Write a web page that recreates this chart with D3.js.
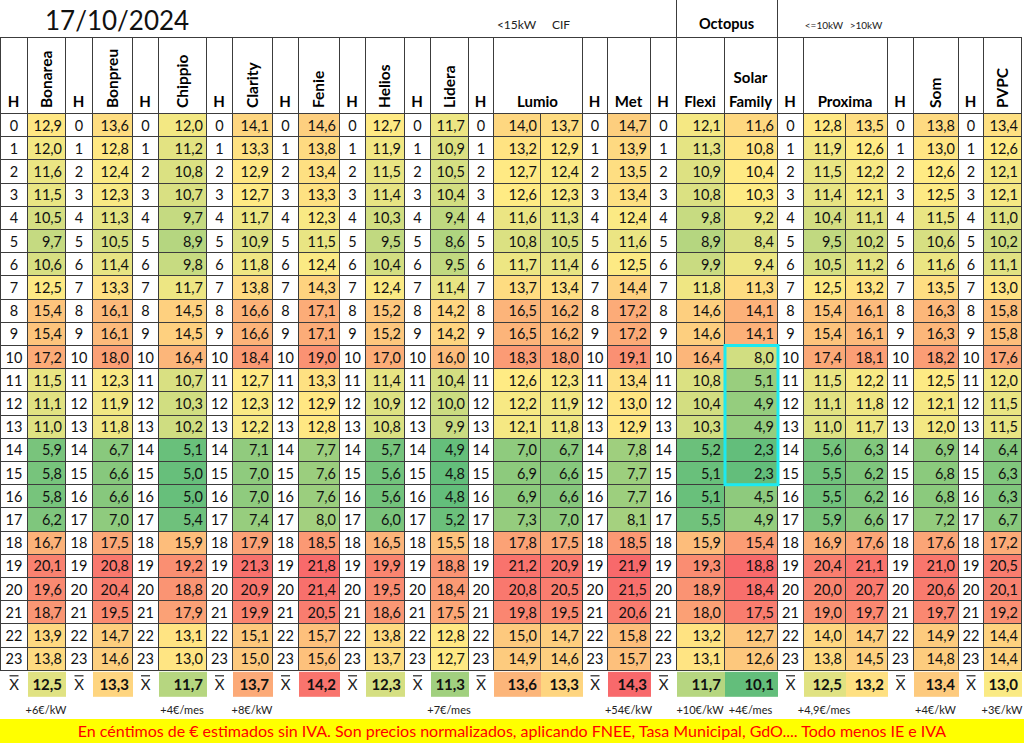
<!DOCTYPE html>
<html>
<head>
<meta charset="utf-8">
<script src="https://cdn.jsdelivr.net/npm/d3@7"></script>
<style>
  body { margin: 0; background: #fff; }
  svg { display: block; font-family: Lato, "Open Sans", sans-serif; }
</style>
</head>
<body>
<div id="chart"></div>
<script>
// ---- data (céntimos de € por kWh, 17/10/2024) ----
const title = "17/10/2024";
const hours = [0,1,2,3,4,5,6,7,8,9,10,11,12,13,14,15,16,17,18,19,20,21,22,23];

const bonarea  = [12.9,12.0,11.6,11.5,10.5,9.7,10.6,12.5,15.4,15.4,17.2,11.5,11.1,11.0,5.9,5.8,5.8,6.2,16.7,20.1,19.6,18.7,13.9,13.8];
const bonpreu  = [13.6,12.8,12.4,12.3,11.3,10.5,11.4,13.3,16.1,16.1,18.0,12.3,11.9,11.8,6.7,6.6,6.6,7.0,17.5,20.8,20.4,19.5,14.7,14.6];
const chippio  = [12.0,11.2,10.8,10.7,9.7,8.9,9.8,11.7,14.5,14.5,16.4,10.7,10.3,10.2,5.1,5.0,5.0,5.4,15.9,19.2,18.8,17.9,13.1,13.0];
const clarity  = [14.1,13.3,12.9,12.7,11.7,10.9,11.8,13.8,16.6,16.6,18.4,12.7,12.3,12.2,7.1,7.0,7.0,7.4,17.9,21.3,20.9,19.9,15.1,15.0];
const fenie    = [14.6,13.8,13.4,13.3,12.3,11.5,12.4,14.3,17.1,17.1,19.0,13.3,12.9,12.8,7.7,7.6,7.6,8.0,18.5,21.8,21.4,20.5,15.7,15.6];
const helios   = [12.7,11.9,11.5,11.4,10.3,9.5,10.4,12.4,15.2,15.2,17.0,11.4,10.9,10.8,5.7,5.6,5.6,6.0,16.5,19.9,19.5,18.6,13.8,13.7];
const lidera   = [11.7,10.9,10.5,10.4,9.4,8.6,9.5,11.4,14.2,14.2,16.0,10.4,10.0,9.9,4.9,4.8,4.8,5.2,15.5,18.8,18.4,17.5,12.8,12.7];
const lumioA   = [14.0,13.2,12.7,12.6,11.6,10.8,11.7,13.7,16.5,16.5,18.3,12.6,12.2,12.1,7.0,6.9,6.9,7.3,17.8,21.2,20.8,19.8,15.0,14.9];
const lumioB   = [13.7,12.9,12.4,12.3,11.3,10.5,11.4,13.4,16.2,16.2,18.0,12.3,11.9,11.8,6.7,6.6,6.6,7.0,17.5,20.9,20.5,19.5,14.7,14.6];
const met      = [14.7,13.9,13.5,13.4,12.4,11.6,12.5,14.4,17.2,17.2,19.1,13.4,13.0,12.9,7.8,7.7,7.7,8.1,18.5,21.9,21.5,20.6,15.8,15.7];
const flexi    = [12.1,11.3,10.9,10.8,9.8,8.9,9.9,11.8,14.6,14.6,16.4,10.8,10.4,10.3,5.2,5.1,5.1,5.5,15.9,19.3,18.9,18.0,13.2,13.1];
const solar    = [11.6,10.8,10.4,10.3,9.2,8.4,9.4,11.3,14.1,14.1,8.0,5.1,4.9,4.9,2.3,2.3,4.5,4.9,15.4,18.8,18.4,17.5,12.7,12.6];
const proximaA = [12.8,11.9,11.5,11.4,10.4,9.5,10.5,12.5,15.4,15.4,17.4,11.5,11.1,11.0,5.6,5.5,5.5,5.9,16.9,20.4,20.0,19.0,14.0,13.8];
const proximaB = [13.5,12.6,12.2,12.1,11.1,10.2,11.2,13.2,16.1,16.1,18.1,12.2,11.8,11.7,6.3,6.2,6.2,6.6,17.6,21.1,20.7,19.7,14.7,14.5];
const som      = [13.8,13.0,12.6,12.5,11.5,10.6,11.6,13.5,16.3,16.3,18.2,12.5,12.1,12.0,6.9,6.8,6.8,7.2,17.6,21.0,20.6,19.7,14.9,14.8];
const pvpc     = [13.4,12.6,12.1,12.1,11.0,10.2,11.1,13.0,15.8,15.8,17.6,12.0,11.5,11.5,6.4,6.3,6.3,6.7,17.2,20.5,20.1,19.2,14.4,14.4];

const seriesKeys = ["bonarea","bonpreu","chippio","clarity","fenie","helios","lidera",
  "lumioA","lumioB","met","flexi","solar","proximaA","proximaB","som","pvpc"];
const seriesValues = [bonarea,bonpreu,chippio,clarity,fenie,helios,lidera,
  lumioA,lumioB,met,flexi,solar,proximaA,proximaB,som,pvpc];
const averages = [12.5,13.3,11.7,13.7,14.2,12.3,11.3,13.6,13.3,14.3,11.7,10.1,12.5,13.2,13.4,13.0];

// header labels: [text, columns spanned, rotated]
const headers = [
  ["Bonarea",["bonarea"],true], ["Bonpreu",["bonpreu"],true], ["Chippio",["chippio"],true],
  ["Clarity",["clarity"],true], ["Fenie",["fenie"],true], ["Helios",["helios"],true],
  ["Lidera",["lidera"],true], ["Lumio",["lumioA","lumioB"],false], ["Met",["met"],false],
  ["Flexi",["flexi"],false], ["Solar|Family",["solar"],false], ["Proxima",["proximaA","proximaB"],false],
  ["Som",["som"],true], ["PVPC",["pvpc"],true]
];
const topLabels = [["<15kW","lumioA"],["CIF","lumioB"],["<=10kW","proximaA"],[">10kW","proximaB"]];
const notes = [
  ["bonarea","+6€/kW"],["chippio","+4€/mes"],["clarity","+8€/kW"],["lidera","+7€/mes"],
  ["met","+54€/kW"],["flexi","+10€/kW"],["solar","+4€/mes"],["proximaA","+4,9€/mes"],
  ["som","+4€/kW"],["pvpc","+3€/kW"]
];
const footer = "En céntimos de € estimados sin IVA. Son precios normalizados, aplicando FNEE, Tasa Municipal, GdO.... Todo menos IE e IVA";

// ---- layout ----
const W = 1024, H = 743;
const colOrder = ["h0","bonarea","h1","bonpreu","h2","chippio","h3","clarity","h4","fenie",
  "h5","helios","h6","lidera","h7","lumioA","lumioB","h8","met","h9","flexi","solar",
  "h10","proximaA","proximaB","h11","som","h12","pvpc"];
const colWidths = [27,38,27,40,26,48,26,40,26,41,26,39,26,38,25,47,42,25,43,26,48,53,26,42,42,26,45,25,38];
const headTop = 37, gridTop = 113, rowH = 23.2;
const isHour = k => /^h\d+$/.test(k);

const starts = colWidths.map((w, i) => d3.sum(colWidths.slice(0, i)));
const xPos = d3.scaleOrdinal().domain(colOrder).range(starts);
const xWid = d3.scaleOrdinal().domain(colOrder).range(colWidths);
const y = d3.scaleBand().domain(hours).range([gridTop, gridTop + rowH * hours.length]);
const avgTop = y.range()[1] + 2, avgH = 25;
const gridRight = d3.sum(colWidths);

const fmt = d3.formatLocale({decimal: ",", thousands: ".", grouping: [3], currency: ["", "€"]}).format(".1f");
const excelScale = vals => d3.scaleLinear()
  .domain([d3.min(vals), d3.quantile(vals, 0.5), d3.max(vals)])
  .range(["#63BE7B", "#FFEB84", "#F8696B"]);
const allVals = seriesValues.filter((v, i) => seriesKeys[i] !== "solar").flat();
const colorAll = excelScale(allVals);
const colorSolar = excelScale(solar);
const colorAvg = excelScale(averages);

const svg = d3.select("#chart").append("svg")
  .attr("width", W).attr("height", H);

const line = "#3c3c3c";

// title row
svg.append("text").attr("x", 45).attr("y", 30)
  .attr("font-size", 26).attr("fill", "#111").text(title);
svg.append("line").attr("x1", 0).attr("x2", gridRight).attr("y1", headTop + 0.5).attr("y2", headTop + 0.5)
  .attr("stroke", line);
[xPos("flexi"), xPos("h10")].forEach(x => {
  svg.append("line").attr("x1", x + 0.5).attr("x2", x + 0.5).attr("y1", 0).attr("y2", headTop)
    .attr("stroke", line);
});
svg.append("text").attr("x", (xPos("flexi") + xPos("h10")) / 2).attr("y", 29)
  .attr("text-anchor", "middle").attr("font-weight", 700).attr("font-size", 14.5).text("Octopus");
topLabels.forEach(([t, k]) => {
  svg.append("text").attr("x", xPos(k) + xWid(k) / 2).attr("y", 29)
    .attr("text-anchor", "middle").attr("font-size", k.startsWith("lumio") ? 12 : 10)
    .attr("fill", "#222").text(t);
});

// header cells
const head = svg.append("g");
colOrder.filter(isHour).forEach(k => {
  head.append("rect").attr("x", xPos(k) + 0.5).attr("y", headTop + 0.5)
    .attr("width", xWid(k)).attr("height", gridTop - headTop)
    .attr("fill", "#fff").attr("stroke", line);
  head.append("text").attr("x", xPos(k) + xWid(k) / 2).attr("y", 107)
    .attr("text-anchor", "middle").attr("font-weight", 700).attr("font-size", 15).text("H");
});
headers.forEach(([label, cols, rot]) => {
  const x0 = xPos(cols[0]);
  const x1 = xPos(cols[cols.length - 1]) + xWid(cols[cols.length - 1]);
  const cx = (x0 + x1) / 2;
  head.append("rect").attr("x", x0 + 0.5).attr("y", headTop + 0.5)
    .attr("width", x1 - x0).attr("height", gridTop - headTop)
    .attr("fill", "#fff").attr("stroke", line);
  if (rot) {
    head.append("text").attr("transform", `translate(${cx + 5.5},108) rotate(-90)`)
      .attr("font-weight", 700).attr("font-size", 15.5).text(label);
  } else {
    const parts = label.split("|");
    parts.forEach((p, i) => {
      head.append("text").attr("x", cx).attr("y", 107 - (parts.length - 1 - i) * 24)
        .attr("text-anchor", "middle").attr("font-weight", 700).attr("font-size", 15).text(p);
    });
  }
});

// grid cells
const grid = svg.append("g").attr("shape-rendering", "crispEdges");
colOrder.forEach(k => {
  const isH = isHour(k);
  const si = seriesKeys.indexOf(k);
  hours.forEach((hr, r) => {
    const v = isH ? null : seriesValues[si][r];
    const fill = isH ? "#fff" : (k === "solar" ? colorSolar(v) : colorAll(v));
    grid.append("rect").attr("x", xPos(k) + 0.5).attr("y", y(hr) + 0.5)
      .attr("width", xWid(k)).attr("height", y.bandwidth())
      .attr("fill", fill).attr("stroke", line);
  });
});
const labels = svg.append("g").attr("font-size", 14.5).attr("fill", "#111");
colOrder.forEach(k => {
  const isH = isHour(k);
  const si = seriesKeys.indexOf(k);
  hours.forEach((hr, r) => {
    labels.append("text")
      .attr("x", isH ? xPos(k) + xWid(k) / 2 + 0.5 : xPos(k) + xWid(k) - 3)
      .attr("y", y(hr) + y.bandwidth() / 2 + 6)
      .attr("text-anchor", isH ? "middle" : "end")
      .text(isH ? hr : fmt(seriesValues[si][r]));
  });
});

// highlight box on Solar Family 10h-15h
svg.append("rect")
  .attr("x", xPos("solar") + 1).attr("y", y(10) + 0.5)
  .attr("width", xWid("solar")).attr("height", y(15) + y.bandwidth() - y(10))
  .attr("fill", "none").attr("stroke", "#1DE9F0").attr("stroke-width", 3);

// average row
const avg = svg.append("g");
colOrder.forEach(k => {
  const cy = avgTop + avgH / 2;
  if (isHour(k)) {
    const cx = xPos(k) + xWid(k) / 2 + 0.5;
    avg.append("text").attr("x", cx).attr("y", cy + 6)
      .attr("text-anchor", "middle").attr("font-size", 15).attr("fill", "#222").text("X");
    avg.append("line").attr("x1", cx - 4.5).attr("x2", cx + 4.5)
      .attr("y1", cy - 8.5).attr("y2", cy - 8.5).attr("stroke", "#222").attr("stroke-width", 1.2);
  } else {
    const v = averages[seriesKeys.indexOf(k)];
    avg.append("rect").attr("x", xPos(k) + 1).attr("y", avgTop)
      .attr("width", xWid(k)).attr("height", avgH).attr("fill", colorAvg(v));
    avg.append("text").attr("x", xPos(k) + xWid(k) - 3).attr("y", cy + 6)
      .attr("text-anchor", "end").attr("font-size", 15).attr("font-weight", 700)
      .attr("fill", "#111").text(fmt(v));
  }
});

// surcharge notes
notes.forEach(([k, t]) => {
  svg.append("text").attr("x", xPos(k) + xWid(k) / 2).attr("y", 714)
    .attr("text-anchor", "middle").attr("font-size", 11).attr("fill", "#222").text(t);
});

// footer banner
svg.append("rect").attr("x", 0).attr("y", 719).attr("width", W).attr("height", H - 719)
  .attr("fill", "#FFFF00");
svg.append("text").attr("x", W / 2).attr("y", 737)
  .attr("text-anchor", "middle").attr("font-size", 16).attr("fill", "#FF0000").text(footer);
</script>
</body>
</html>
